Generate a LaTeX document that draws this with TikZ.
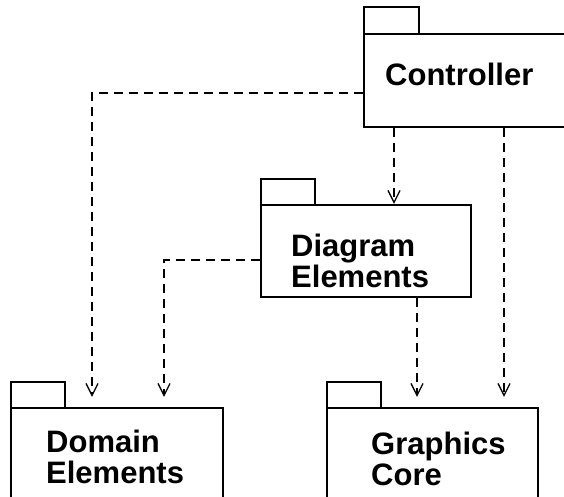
\documentclass[tikz,border=0pt]{standalone}
\usepackage{fontspec}
\setmainfont{Liberation Sans}
\usetikzlibrary{arrows.meta,calc}
\begin{document}
\begin{tikzpicture}[x=1pt,y=-1pt,
  body/.style={draw,line width=2.2pt,rectangle,inner sep=0pt},
  tabbox/.style={draw,line width=1.4pt},
  ptext/.style={inner sep=0pt,anchor=base west,align=left,font=\fontsize{31}{30.5}\selectfont\bfseries},
  dep/.style={line width=1.7pt,dash pattern=on 9pt off 6pt,-{Straight Barb[length=12pt,width=12pt,line width=1.3pt]}}
]
\useasboundingbox (0,0) rectangle (564,497);
\clip (0,0) rectangle (564,497);
% packages
\node[body,minimum width=256pt,minimum height=93pt] (ctrl) at (492,80.5) {};
\draw[tabbox] (364,34) -- (364,7) -- (419,7) -- (419,34);
\node[ptext] (ctrlt) at (385,86) {Controller};

\node[body,minimum width=210pt,minimum height=92pt] (dia) at (366,251) {};
\draw[tabbox] (261,205) -- (261,179) -- (315,179) -- (315,205);
\node[ptext] (diat) at (291,287) {Diagram\\Elements};

\node[body,minimum width=212pt,minimum height=112pt] (dom) at (117,464) {};
\draw[tabbox] (11,408) -- (11,382) -- (65,382) -- (65,408);
\node[ptext] (domt) at (46,483) {Domain\\Elements};

\node[body,minimum width=211pt,minimum height=112pt] (gfx) at (432.5,464) {};
\draw[tabbox] (327,408) -- (327,382) -- (381,382) -- (381,408);
\node[ptext] (gfxt) at (371,485) {Graphics\\Core};

% connectors
\coordinate (domA) at ($(dom.north)+(-25,-10)$);
\coordinate (domB) at ($(dom.north)+(47,-10)$);
\coordinate (gfxA) at ($(gfx.north)+(-15.5,-10)$);
\coordinate (gfxB) at ($(gfx.north)+(71.5,-10)$);
\coordinate (diaIn) at ($(dia.north)+(28,0)$);

\draw[dep] ($(ctrl.west)+(0,12.5)$) -| (domA);
\draw[dep] (ctrl.south -| diaIn) -- (diaIn);
\draw[dep] (ctrl.south -| gfxB) -- (gfxB);
\draw[dep] ($(dia.west)+(0,9)$) -| (domB);
\draw[dep] (dia.south -| gfxA) -- (gfxA);
\end{tikzpicture}
\end{document}
